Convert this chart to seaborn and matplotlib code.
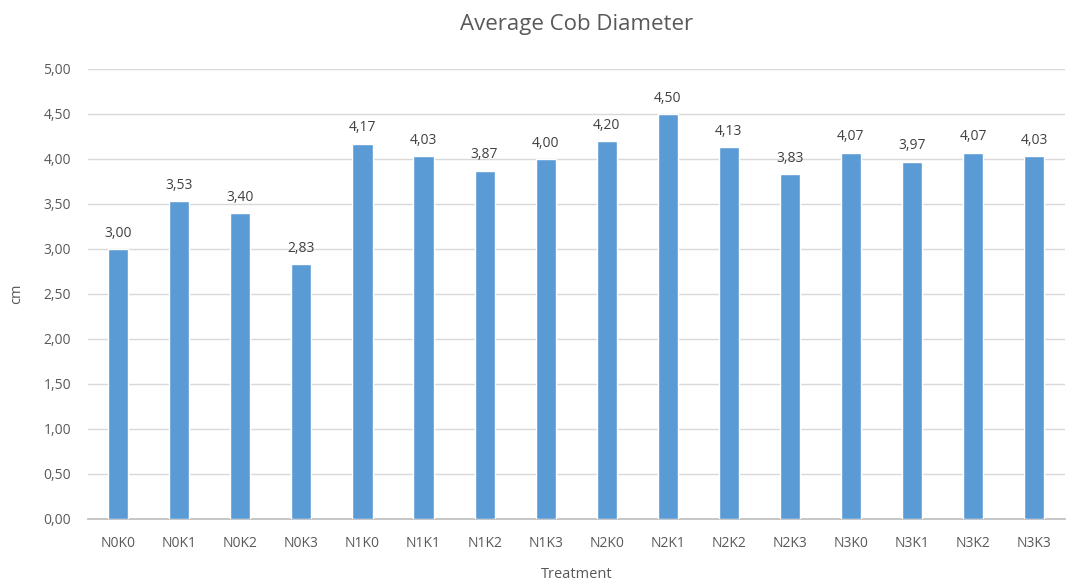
import matplotlib
matplotlib.use("Agg")
import matplotlib.pyplot as plt
import seaborn as sns
import pandas as pd
from matplotlib.ticker import FuncFormatter, MultipleLocator

treatments = ["N0K0", "N0K1", "N0K2", "N0K3", "N1K0", "N1K1", "N1K2", "N1K3",
              "N2K0", "N2K1", "N2K2", "N2K3", "N3K0", "N3K1", "N3K2", "N3K3"]
diameters = [3.00, 3.53, 3.40, 2.83, 4.17, 4.03, 3.87, 4.00,
             4.20, 4.50, 4.13, 3.83, 4.07, 3.97, 4.07, 4.03]

sns.set_theme(style="white")
plt.rcParams['font.family'] = ['Open Sans', 'DejaVu Sans']

df = pd.DataFrame({"Treatment": treatments, "cm": diameters})

fig = plt.figure(figsize=(10.69, 5.83), dpi=100)
ax = fig.add_axes([0.082, 0.110, 0.914, 0.772])

sns.barplot(data=df, x="Treatment", y="cm", color="#5B9BD5", width=0.33,
            saturation=1, ax=ax, zorder=3)

fmt = lambda v, p=None: f"{v:.2f}".replace(".", ",")
for i, v in enumerate(diameters):
    ax.text(i, v + 0.09, fmt(v), ha="center", va="bottom", fontsize=10, color="#404040")

ax.set_ylim(0, 5)
ax.set_xlim(-0.5, len(treatments) - 0.5)
ax.yaxis.set_major_locator(MultipleLocator(0.5))
ax.yaxis.set_major_formatter(FuncFormatter(fmt))
ax.grid(axis="y", color="#D9D9D9", linewidth=1, zorder=0)
for s in ["top", "right", "left"]:
    ax.spines[s].set_visible(False)
ax.spines["bottom"].set_color("#BFBFBF")
ax.tick_params(axis="y", labelsize=10, colors="#595959", length=0, pad=12)
ax.tick_params(axis="x", labelsize=10, colors="#595959", length=0, pad=12)
ax.set_xlabel("Treatment", fontsize=10.5, color="#595959", labelpad=12)
ax.set_ylabel("cm", fontsize=10.5, color="#595959", labelpad=14)
ax.set_title("Average Cob Diameter", fontsize=16, color="#595959", pad=28)

fig.savefig("out.png", dpi=100)
